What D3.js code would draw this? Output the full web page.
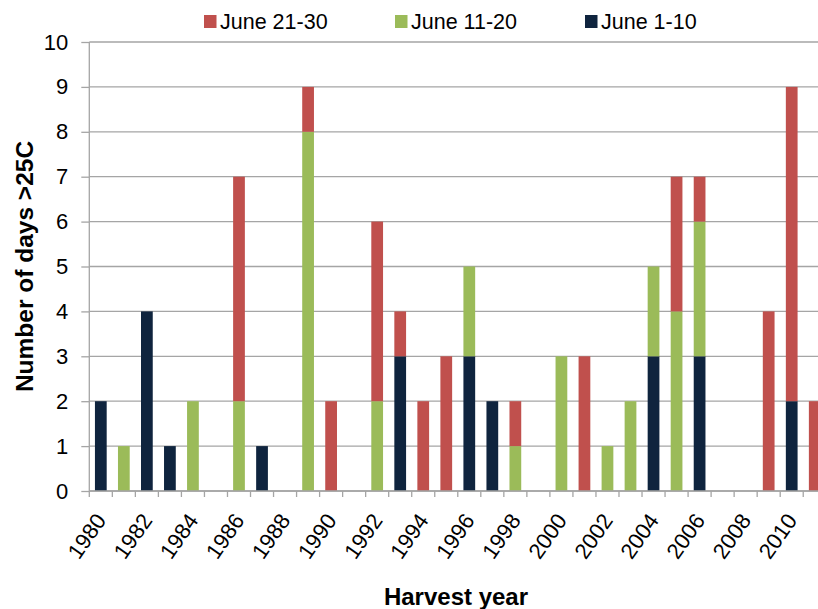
<!DOCTYPE html>
<html>
<head>
<meta charset="utf-8">
<script src="https://cdn.jsdelivr.net/npm/d3@7"></script>
<style>
  html, body { margin: 0; padding: 0; background: #fff; }
  svg { display: block; font-family: "Liberation Sans", Arial, sans-serif; }
</style>
</head>
<body>
<svg id="chart" width="818" height="609"></svg>
<script>
// ---- data ----
const years = d3.range(1980, 2012);
const june1to10  = [2,0,4,1,0,0,0,1,0,0,0,0,0,3,0,0,3,2,0,0,0,0,0,0,3,0,3,0,0,0,2,0];
const june11to20 = [0,1,0,0,2,0,2,0,0,8,0,0,2,0,0,0,2,0,1,0,3,0,1,2,2,4,3,0,0,0,0,0];
const june21to30 = [0,0,0,0,0,0,5,0,0,1,2,0,4,1,2,3,0,0,1,0,0,3,0,0,0,3,1,0,0,4,7,2];
const seriesNames = ["June 1-10", "June 11-20", "June 21-30"];
const legendOrder = ["June 21-30", "June 11-20", "June 1-10"];
const yTicks = [0,1,2,3,4,5,6,7,8,9,10];
const xLabelYears = years.filter(y => y % 2 === 0);

const colors = { "June 1-10": "#0F243E", "June 11-20": "#9BBB59", "June 21-30": "#C0504D" };

const rows = years.map((y, i) => ({
  year: y,
  "June 1-10": june1to10[i],
  "June 11-20": june11to20[i],
  "June 21-30": june21to30[i]
}));

const svg = d3.select("#chart");
const plotLeft = 89.3, plotTop = 42, plotBottom = 491;
const step = 23.03;
const plotRight = plotLeft + years.length * step;

const x = d3.scaleBand().domain(years).range([plotLeft, plotRight]).paddingInner(0.49).paddingOuter(0.245);
const y = d3.scaleLinear().domain([0, 10]).range([plotBottom, plotTop]);

// gridlines
svg.append("g").selectAll("line").data(yTicks).join("line")
  .attr("x1", plotLeft).attr("x2", plotRight)
  .attr("y1", d => y(d)).attr("y2", d => y(d))
  .attr("stroke", "#A5A5A5").attr("stroke-width", 1.3);

// bars
const stack = d3.stack().keys(seriesNames)(rows);
svg.append("g").selectAll("g").data(stack).join("g")
  .attr("fill", d => colors[d.key])
  .selectAll("rect").data(d => d.filter(p => p[1] > p[0])).join("rect")
  .attr("x", d => x(d.data.year))
  .attr("width", x.bandwidth())
  .attr("y", d => y(d[1]))
  .attr("height", d => y(d[0]) - y(d[1]));

// y axis
const yAxis = svg.append("g").attr("transform", `translate(${plotLeft},0)`)
  .call(d3.axisLeft(y).tickValues(yTicks).tickSize(8).tickPadding(13).tickFormat(d3.format("d")));
yAxis.select(".domain").attr("stroke", "#A5A5A5").attr("stroke-width", 1.3).attr("d", `M0,${plotTop}V${plotBottom}`);
yAxis.selectAll(".tick line").attr("stroke", "#A5A5A5").attr("stroke-width", 1.3);
yAxis.selectAll(".tick text").attr("font-size", 22).attr("fill", "#000")
  .attr("font-family", "'Liberation Sans', Arial, sans-serif");

// x axis baseline and ticks at band boundaries
const half = (x.step() - x.bandwidth()) / 2;
const boundaries = years.map(yr => x(yr) - half);
svg.append("line").attr("x1", plotLeft).attr("x2", plotRight).attr("y1", plotBottom).attr("y2", plotBottom)
  .attr("stroke", "#A5A5A5").attr("stroke-width", 1.3);
svg.append("g").selectAll("line").data(boundaries).join("line")
  .attr("x1", d => d).attr("x2", d => d).attr("y1", plotBottom).attr("y2", plotBottom + 6)
  .attr("stroke", "#A5A5A5").attr("stroke-width", 1.3);

// x labels
svg.append("g").selectAll("text").data(xLabelYears).join("text")
  .attr("transform", d => `translate(${x(d) + x.bandwidth() / 2},${plotBottom + 25}) rotate(-55)`)
  .attr("text-anchor", "end")
  .attr("dy", "0.35em")
  .attr("font-size", 22)
  .attr("fill", "#000")
  .text(d => d);

// axis titles
svg.append("text")
  .attr("transform", `translate(33,${(plotTop + plotBottom) / 2}) rotate(-90)`)
  .attr("text-anchor", "middle")
  .attr("font-size", 24.5).attr("font-weight", "bold").attr("fill", "#000")
  .text("Number of days >25C");
svg.append("text")
  .attr("x", 456).attr("y", 605)
  .attr("text-anchor", "middle")
  .attr("font-size", 24).attr("font-weight", "bold").attr("fill", "#000")
  .text("Harvest year");

// legend
const legendX = [204, 395, 585];
const lg = svg.append("g").selectAll("g").data(legendOrder).join("g")
  .attr("transform", (d, i) => `translate(${legendX[i]},0)`);
lg.append("rect").attr("x", 0).attr("y", 15).attr("width", 12.5).attr("height", 13)
  .attr("fill", d => colors[d]);
lg.append("text").attr("x", 16).attr("y", 29).attr("font-size", 21.5).attr("fill", "#000")
  .text(d => d);
</script>
</body>
</html>
